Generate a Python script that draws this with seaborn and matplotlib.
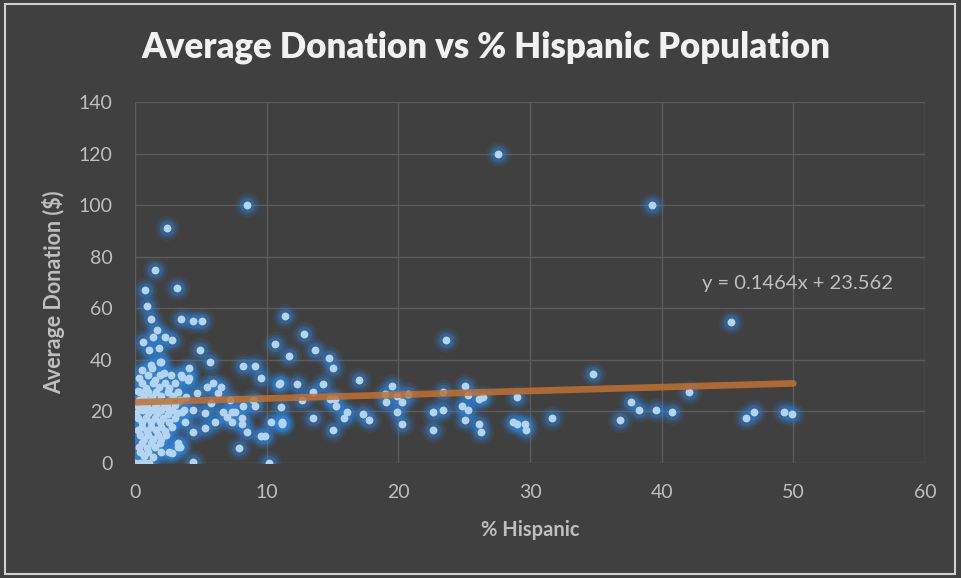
import matplotlib
matplotlib.use("Agg")
import matplotlib.pyplot as plt
import seaborn as sns
import numpy as np
import pandas as pd
from matplotlib.patches import Rectangle

# ---------------- data ----------------
pct_hispanic = [
    # dense cluster near 0-4 %
    0.5, 1.2, 2.0, 1.0, 1.9, 2.7, 3.5, 0.3, 2.2, 1.5,
    0.5, 1.4, 2.3, 3.0, 0.8, 1.8, 2.6, 0.2,
    0.4, 1.0, 1.6, 2.5, 3.3, 0.7, 1.3, 2.0, 2.9,
    0.3, 1.1, 1.8, 2.6, 3.4, 0.6, 1.5, 2.2, 3.0,
    0.2, 0.9, 1.7, 2.4,
    0.5, 1.3, 2.0, 2.8, 3.7, 0.1, 1.0, 1.7, 2.5, 3.2,
    0.2, 0.8, 1.5, 2.1, 3.0, 0.5, 1.2, 1.9, 2.6,
    0.5, 1.2, 2.0, 2.8, 0.2, 0.9, 1.6, 2.3,
    0.4, 1.0, 1.75, 2.35, 0.7, 1.4, 2.0,
    0.5, 1.2, 1.9, 3.3, 0.3, 0.9, 1.5,
    0.4, 1.0, 2.0, 2.6, 0.7, 1.4,
    0.0, 0.4, 0.75, 1.1,
    # upper part of the cluster and 3-7 %
    1.3, 1.9, 0.6, 1.1, 1.8, 1.4, 2.3, 2.8, 1.7, 1.2, 3.5, 4.4, 5.1,
    0.9, 0.76, 3.2, 1.5, 2.4, 4.9, 5.7, 4.1, 3.6, 4.1, 5.9, 6.5, 5.5,
    6.3, 4.0, 4.7, 3.9, 5.8, 6.7, 7.0, 6.1, 5.3, 4.4, 3.6, 3.8, 5.3,
    4.4, 3.3, 2.8, 3.4, 4.4,
    # 7-12 %
    7.2, 8.2, 9.1, 9.0, 7.6, 8.1, 8.1, 7.4, 8.5, 9.6, 9.9, 7.9, 10.2,
    10.3, 11.2, 11.2, 7.4, 8.2, 9.1, 9.6, 10.9, 12.3, 10.6, 11.4, 11.7,
    8.5,
    # 11-30 %
    12.8, 13.7, 14.7, 15.0, 17.0, 11.0, 14.3, 13.5, 12.7, 14.8, 15.2,
    15.3, 11.1, 16.1, 15.9, 17.3, 17.8, 13.5, 11.2, 15.0,
    19.0, 19.5, 19.9, 20.7, 19.1, 20.3, 19.9, 20.3,
    23.6, 23.4, 22.6, 23.4, 22.6, 27.6,
    25.1, 25.3, 24.8, 25.3, 25.1, 26.1, 26.4, 26.1, 26.3,
    29.0, 28.7, 29.0, 29.6, 29.7,
    # 30-50 %
    31.7, 34.8, 36.8, 37.7, 38.3, 39.6, 39.3, 40.8, 42.1, 45.3,
    46.4, 47.0, 49.3, 49.9,
]
avg_donation = [
    36, 38, 39, 34, 34, 34, 34, 33, 35, 32,
    31, 31, 31, 31, 29, 29.5, 29, 28,
    27.5, 27.5, 27.5, 27.5, 27.5, 26, 25.5, 26, 25.8,
    24.5, 24, 24.2, 24, 24.5, 23, 22.8, 23, 22.5,
    22, 21.8, 21.5, 21.8,
    20.6, 20.6, 20.6, 20.6, 20.6, 19.5, 19.2, 19.5, 19, 19.3,
    17.4, 17.4, 17.4, 17.4, 17.4, 16, 15.8, 16, 16,
    14, 14, 14, 14, 12.8, 12.5, 12.8, 12.5,
    10.9, 10.9, 10.9, 10.9, 9.5, 9.3, 9.5,
    7.8, 7.8, 7.8, 7.8, 6.2, 6, 6.3,
    4.3, 4.3, 4.3, 4.3, 2.8, 2.5,
    0, 0, 0, 0,
    37, 39, 47, 43.8, 44.6, 49, 49, 47.7, 51.6, 56, 56, 55, 55,
    61, 67, 68, 75, 91, 43.8, 39, 37, 33.4, 33, 31, 29.5, 29.5,
    27, 32, 27, 25.6, 23.3, 19.8, 17.8, 15.9, 19.4, 20.6, 19.8, 15.9, 13.6,
    12, 6.2, 3.9, 6.2, 0.4,
    24.4, 22, 22, 24.4, 19.8, 17.4, 15.1, 15.9, 12, 10.5, 10.5, 5.8, 0,
    15.9, 15.9, 15.1, 19.8, 37.6, 37.6, 33, 30.6, 30.6, 46, 57, 41.5,
    100,
    50, 43.8, 40.7, 36.8, 32, 31, 30.6, 27.5, 24.4, 24.8, 24.8,
    22, 21.7, 19.8, 17.4, 19, 16.7, 17.4, 15.5, 12.8,
    26.8, 29.9, 26, 26.8, 23.6, 23.6, 19.8, 15.1,
    47.7, 27.5, 19.8, 20.6, 12.8, 120,
    29.9, 26.4, 22, 20.6, 16.7, 24.8, 25.6, 15.1, 12,
    25.6, 15.9, 15.1, 15.1, 12.8,
    17.4, 34.5, 16.7, 23.6, 20.6, 20.6, 100, 19.8, 27.5, 54.7,
    17.4, 19.8, 19.8, 19,
]

trend_slope = 0.1464
trend_intercept = 23.562
trend_x = [0, 50]
trend_y = [trend_intercept + trend_slope * v for v in trend_x]

title = "Average Donation vs % Hispanic Population"
x_label = "% Hispanic"
y_label = "Average Donation ($)"
equation = "y = 0.1464x + 23.562"
x_ticks = [0, 10, 20, 30, 40, 50, 60]
y_ticks = [0, 20, 40, 60, 80, 100, 120, 140]

df = pd.DataFrame({"pct": pct_hispanic, "don": avg_donation})
trend_df = pd.DataFrame({"x": trend_x, "y": trend_y})

# ---------------- styling ----------------
BG = "#404040"
GRID = "#5c5c5c"
TXT = "#bfbfbf"

sns.set_theme(style="dark")
plt.rcParams["font.family"] = ["Lato", "DejaVu Sans"]

fig = plt.figure(figsize=(9.61, 5.78), dpi=100, facecolor=BG)
ax = fig.add_axes([135 / 961, 1 - 463 / 578, 790 / 961, 361 / 578])
ax.set_facecolor(BG)

# glow layers
for s, a in [(330, 0.09), (210, 0.17), (120, 0.32)]:
    sns.scatterplot(data=df, x="pct", y="don", ax=ax, s=s, color="#2f86e0",
                    alpha=a, linewidth=0, legend=False, zorder=2)
sns.scatterplot(data=df, x="pct", y="don", ax=ax, s=32, color="#b4d4f2",
                linewidth=0, legend=False, zorder=3)

sns.lineplot(data=trend_df, x="x", y="y", ax=ax, color="#c2702f", lw=4.8,
             alpha=0.85, zorder=4, solid_capstyle="round")

ax.set_xlim(0, 60)
ax.set_ylim(0, 140)
ax.set_xticks(x_ticks)
ax.set_yticks(y_ticks)
ax.grid(True, color=GRID, lw=1)
ax.set_axisbelow(True)
for sp in ax.spines.values():
    sp.set_visible(False)
ax.tick_params(axis="both", colors=TXT, labelsize=14, length=0)
ax.tick_params(axis="y", pad=16)
ax.tick_params(axis="x", pad=15)
ax.set_xlabel(x_label, color=TXT, fontsize=14.5, fontweight="bold")
ax.set_ylabel(y_label, color=TXT, fontsize=15.5, fontweight="bold")
ax.xaxis.set_label_coords(0.5, -0.186)
ax.yaxis.set_label_coords(-0.1025, 0.474)
ax.xaxis.label.set_va("center")
ax.yaxis.label.set_va("center")

fig.text(486 / 961, 1 - 47 / 578, title, color="#f2f2f2", fontsize=25,
         fontweight="heavy", ha="center", va="center")
ax.text(50.3, 69.5, equation, color=TXT, fontsize=14.5,
        ha="center", va="center")

fig.patches.append(Rectangle((5 / 961, 4 / 578), 950 / 961, 570 / 578,
                             transform=fig.transFigure, fill=False,
                             edgecolor="#d0d0d0", lw=1.5))

fig.savefig("out.png", dpi=100, facecolor=BG)
